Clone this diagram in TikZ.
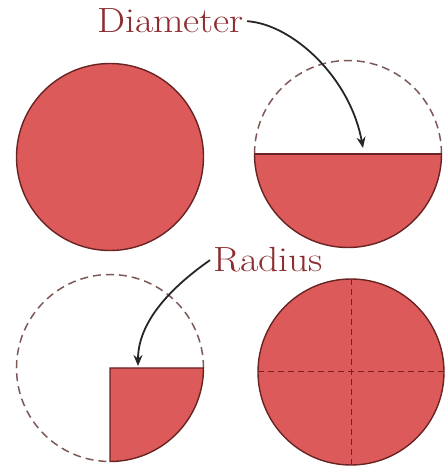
\documentclass[tikz,border=0pt]{standalone}
\usetikzlibrary{arrows.meta}
\definecolor{discred}{RGB}{221,90,90}
\definecolor{rimred}{RGB}{105,35,35}
\definecolor{ghost}{RGB}{125,88,88}
\definecolor{labelred}{RGB}{140,45,48}
\begin{document}
\begin{tikzpicture}[x=1pt,y=1pt]
    \tikzset{
        disc/.style={fill=discred, draw=rimred, line width=1.4pt},
        ghostrim/.style={draw=ghost, line width=1.5pt, dash pattern=on 8pt off 5pt},
        cut/.style={draw=rimred!85!red, line width=1pt, dash pattern=on 6pt off 4pt},
        tag/.style={text=labelred, font=\fontsize{35}{40}\selectfont, inner sep=0pt, anchor=base west, xscale=1.13},
        pointer/.style={-{Stealth[length=11pt,width=9pt]}, line width=1.8pt, draw=black!85}
    }
    \useasboundingbox (0,0) rectangle (448,467);

    \coordinate (whole) at (110,310);
    \coordinate (half) at (348,313);
    \coordinate (quarter) at (110,99);
    \coordinate (fourths) at (351,95);
    \coordinate (dtip) at (363,319);
    \coordinate (rtip) at (138,101);

    \draw[disc] (whole) circle (93.5);

    \draw[ghostrim] (half) ++(0:93.5) arc (0:180:93.5);
    \draw[disc] (half) ++(180:93.5) arc (180:360:93.5) -- cycle;
    \draw[rimred, line width=2.2pt] (half) ++(180:93.5) -- ++(187,0);

    \draw[ghostrim] (quarter) ++(0:93.5) arc (0:270:93.5);
    \draw[disc] (quarter) -- ++(0:93.5) arc (0:-90:93.5) -- cycle;

    \draw[disc] (fourths) circle (93);
    \foreach \a in {0,90}{
        \draw[cut] (fourths) ++(\a:93) -- ++(\a+180:186);
    }

    \draw node[tag] (diam) at (97,434) {Diameter};
    \draw node[tag] (rad) at (213,195) {Radius};

    \draw[pointer] ([xshift=3pt]diam.east) .. controls +(45,-3) and +(-13,71) .. (dtip);
    \draw[pointer] ([xshift=-3pt]rad.west) .. controls +(-30,-21) and +(0,49) .. (rtip);
\end{tikzpicture}
\end{document}
